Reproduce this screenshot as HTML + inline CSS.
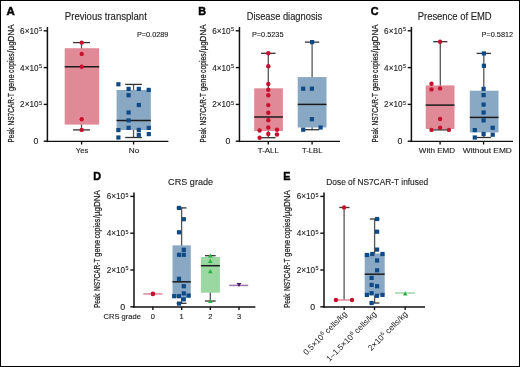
<!DOCTYPE html>
<html><head><meta charset="utf-8"><style>
html,body{margin:0;padding:0;background:#fff;overflow:hidden;}
svg{display:block;font-family:"Liberation Sans", sans-serif;will-change:transform;}
</style></head><body>
<svg width="520" height="367" viewBox="0 0 520 367">
<rect x="0" y="0" width="520" height="367" fill="#fff"/>
<rect x="0.5" y="0.5" width="519" height="366" fill="none" stroke="#000" stroke-width="1"/>
<line x1="47.40" y1="26.90" x2="47.40" y2="142.10" stroke="#111" stroke-width="1.5"/>
<line x1="46.60" y1="141.40" x2="168.40" y2="141.40" stroke="#111" stroke-width="1.4"/>
<line x1="43.70" y1="141.20" x2="47.40" y2="141.20" stroke="#111" stroke-width="1.4"/>
<text x="36.00" y="144.30" font-size="8.8" text-anchor="middle" font-weight="normal" fill="#222" stroke="#222" stroke-width="0.12">0</text>
<line x1="43.70" y1="104.40" x2="47.40" y2="104.40" stroke="#111" stroke-width="1.4"/>
<text x="20.10" y="107.40" font-size="8.6" fill="#222" stroke="#222" stroke-width="0.12" textLength="18.4" lengthAdjust="spacingAndGlyphs">2×10</text>
<text x="39.00" y="104.70" font-size="5.4" text-anchor="start" font-weight="normal" fill="#222" stroke="#222" stroke-width="0.12">5</text>
<line x1="43.70" y1="67.60" x2="47.40" y2="67.60" stroke="#111" stroke-width="1.4"/>
<text x="20.10" y="70.60" font-size="8.6" fill="#222" stroke="#222" stroke-width="0.12" textLength="18.4" lengthAdjust="spacingAndGlyphs">4×10</text>
<text x="39.00" y="67.90" font-size="5.4" text-anchor="start" font-weight="normal" fill="#222" stroke="#222" stroke-width="0.12">5</text>
<line x1="43.70" y1="30.80" x2="47.40" y2="30.80" stroke="#111" stroke-width="1.4"/>
<text x="20.10" y="33.80" font-size="8.6" fill="#222" stroke="#222" stroke-width="0.12" textLength="18.4" lengthAdjust="spacingAndGlyphs">6×10</text>
<text x="39.00" y="31.10" font-size="5.4" text-anchor="start" font-weight="normal" fill="#222" stroke="#222" stroke-width="0.12">5</text>
<line x1="81.60" y1="141.20" x2="81.60" y2="144.50" stroke="#151515" stroke-width="1.4"/>
<line x1="133.60" y1="141.20" x2="133.60" y2="144.50" stroke="#151515" stroke-width="1.4"/>
<g transform="translate(13.50,143.20) rotate(-90)" font-size="9.8" fill="#222" stroke="#222" stroke-width="0.24"><text x="0.70" y="0" textLength="14.70" lengthAdjust="spacingAndGlyphs">Peak</text><text x="17.80" y="0" textLength="32.40" lengthAdjust="spacingAndGlyphs">NS7CAR-T</text><text x="52.10" y="0" textLength="16.80" lengthAdjust="spacingAndGlyphs">gene</text><text x="70.20" y="0" textLength="19.80" lengthAdjust="spacingAndGlyphs">copies</text><text x="90.50" y="0" textLength="28.20" lengthAdjust="spacingAndGlyphs">/µgDNA</text></g>
<text x="6.60" y="15.30" font-size="10.8" text-anchor="start" font-weight="bold" fill="#000" stroke="#000" stroke-width="0.45" textLength="8.3" lengthAdjust="spacingAndGlyphs">A</text>
<text x="64.80" y="20.00" font-size="10" text-anchor="start" font-weight="normal" fill="#222" stroke="#222" stroke-width="0.12" textLength="82" lengthAdjust="spacingAndGlyphs">Previous transplant</text>
<text x="136.90" y="37.40" font-size="7.8" text-anchor="start" font-weight="normal" fill="#222" stroke="#222" stroke-width="0.12" textLength="31.5" lengthAdjust="spacingAndGlyphs">P=0.0289</text>
<line x1="81.50" y1="42.60" x2="81.50" y2="129.90" stroke="#555" stroke-width="1.3"/>
<line x1="73.05" y1="42.60" x2="89.95" y2="42.60" stroke="#333" stroke-width="1.3"/>
<line x1="73.05" y1="129.90" x2="89.95" y2="129.90" stroke="#333" stroke-width="1.3"/>
<rect x="64.7" y="48.2" width="34.50" height="76.40" fill="#e08a98"/>
<line x1="64.70" y1="66.70" x2="99.20" y2="66.70" stroke="#1a1a1a" stroke-width="1.5"/>
<circle cx="81.7" cy="42.6" r="2.2" fill="#c8102e"/>
<circle cx="81.7" cy="53.9" r="2.2" fill="#c8102e"/>
<circle cx="81.7" cy="66.7" r="2.2" fill="#c8102e"/>
<circle cx="81.7" cy="119.3" r="2.2" fill="#c8102e"/>
<circle cx="81.7" cy="129.9" r="2.2" fill="#c8102e"/>
<line x1="133.55" y1="84.40" x2="133.55" y2="137.50" stroke="#555" stroke-width="1.3"/>
<line x1="125.20" y1="84.40" x2="141.90" y2="84.40" stroke="#333" stroke-width="1.3"/>
<line x1="125.20" y1="137.50" x2="141.90" y2="137.50" stroke="#333" stroke-width="1.3"/>
<rect x="116.6" y="90.0" width="34.20" height="40.00" fill="#89a8c4"/>
<line x1="116.60" y1="120.40" x2="150.80" y2="120.40" stroke="#1a1a1a" stroke-width="1.5"/>
<rect x="116.30" y="82.20" width="4.2" height="4.2" fill="#0f4a86"/>
<rect x="126.50" y="86.80" width="4.2" height="4.2" fill="#0f4a86"/>
<rect x="136.70" y="86.80" width="4.2" height="4.2" fill="#0f4a86"/>
<rect x="146.60" y="87.80" width="4.2" height="4.2" fill="#0f4a86"/>
<rect x="126.50" y="93.10" width="4.2" height="4.2" fill="#0f4a86"/>
<rect x="136.70" y="102.90" width="4.2" height="4.2" fill="#0f4a86"/>
<rect x="126.50" y="110.40" width="4.2" height="4.2" fill="#0f4a86"/>
<rect x="126.50" y="118.30" width="4.2" height="4.2" fill="#0f4a86"/>
<rect x="116.30" y="128.00" width="4.2" height="4.2" fill="#0f4a86"/>
<rect x="126.50" y="125.70" width="4.2" height="4.2" fill="#0f4a86"/>
<rect x="136.70" y="127.80" width="4.2" height="4.2" fill="#0f4a86"/>
<rect x="146.70" y="125.80" width="4.2" height="4.2" fill="#0f4a86"/>
<rect x="136.70" y="132.70" width="4.2" height="4.2" fill="#0f4a86"/>
<rect x="146.70" y="132.00" width="4.2" height="4.2" fill="#0f4a86"/>
<rect x="116.30" y="135.40" width="4.2" height="4.2" fill="#0f4a86"/>
<text x="82.00" y="153.10" font-size="7.5" text-anchor="middle" font-weight="normal" fill="#222" stroke="#222" stroke-width="0.12" textLength="12.5" lengthAdjust="spacingAndGlyphs">Yes</text>
<text x="134.00" y="153.10" font-size="7.5" text-anchor="middle" font-weight="normal" fill="#222" stroke="#222" stroke-width="0.12" textLength="10.5" lengthAdjust="spacingAndGlyphs">No</text>
<line x1="239.45" y1="26.90" x2="239.45" y2="142.10" stroke="#111" stroke-width="1.5"/>
<line x1="238.65" y1="141.40" x2="340.00" y2="141.40" stroke="#111" stroke-width="1.4"/>
<line x1="235.75" y1="141.20" x2="239.45" y2="141.20" stroke="#111" stroke-width="1.4"/>
<text x="228.05" y="144.30" font-size="8.8" text-anchor="middle" font-weight="normal" fill="#222" stroke="#222" stroke-width="0.12">0</text>
<line x1="235.75" y1="104.40" x2="239.45" y2="104.40" stroke="#111" stroke-width="1.4"/>
<text x="212.15" y="107.40" font-size="8.6" fill="#222" stroke="#222" stroke-width="0.12" textLength="18.4" lengthAdjust="spacingAndGlyphs">2×10</text>
<text x="231.05" y="104.70" font-size="5.4" text-anchor="start" font-weight="normal" fill="#222" stroke="#222" stroke-width="0.12">5</text>
<line x1="235.75" y1="67.60" x2="239.45" y2="67.60" stroke="#111" stroke-width="1.4"/>
<text x="212.15" y="70.60" font-size="8.6" fill="#222" stroke="#222" stroke-width="0.12" textLength="18.4" lengthAdjust="spacingAndGlyphs">4×10</text>
<text x="231.05" y="67.90" font-size="5.4" text-anchor="start" font-weight="normal" fill="#222" stroke="#222" stroke-width="0.12">5</text>
<line x1="235.75" y1="30.80" x2="239.45" y2="30.80" stroke="#111" stroke-width="1.4"/>
<text x="212.15" y="33.80" font-size="8.6" fill="#222" stroke="#222" stroke-width="0.12" textLength="18.4" lengthAdjust="spacingAndGlyphs">6×10</text>
<text x="231.05" y="31.10" font-size="5.4" text-anchor="start" font-weight="normal" fill="#222" stroke="#222" stroke-width="0.12">5</text>
<line x1="268.30" y1="141.20" x2="268.30" y2="144.50" stroke="#151515" stroke-width="1.4"/>
<line x1="312.10" y1="141.20" x2="312.10" y2="144.50" stroke="#151515" stroke-width="1.4"/>
<g transform="translate(205.55,143.20) rotate(-90)" font-size="9.8" fill="#222" stroke="#222" stroke-width="0.24"><text x="0.70" y="0" textLength="14.70" lengthAdjust="spacingAndGlyphs">Peak</text><text x="17.80" y="0" textLength="32.40" lengthAdjust="spacingAndGlyphs">NS7CAR-T</text><text x="52.10" y="0" textLength="16.80" lengthAdjust="spacingAndGlyphs">gene</text><text x="70.20" y="0" textLength="19.80" lengthAdjust="spacingAndGlyphs">copies</text><text x="90.50" y="0" textLength="28.20" lengthAdjust="spacingAndGlyphs">/µgDNA</text></g>
<text x="198.30" y="15.30" font-size="10.8" text-anchor="start" font-weight="bold" fill="#000" stroke="#000" stroke-width="0.45">B</text>
<text x="246.70" y="20.00" font-size="10" text-anchor="start" font-weight="normal" fill="#222" stroke="#222" stroke-width="0.12" textLength="75.6" lengthAdjust="spacingAndGlyphs">Disease diagnosis</text>
<text x="251.90" y="37.40" font-size="7.8" text-anchor="start" font-weight="normal" fill="#222" stroke="#222" stroke-width="0.12" textLength="31.6" lengthAdjust="spacingAndGlyphs">P=0.5235</text>
<line x1="268.30" y1="53.30" x2="268.30" y2="137.70" stroke="#555" stroke-width="1.3"/>
<line x1="261.05" y1="53.30" x2="275.55" y2="53.30" stroke="#333" stroke-width="1.3"/>
<line x1="261.05" y1="137.70" x2="275.55" y2="137.70" stroke="#333" stroke-width="1.3"/>
<rect x="254.2" y="88.3" width="28.70" height="42.70" fill="#e08a98"/>
<line x1="254.20" y1="117.00" x2="282.90" y2="117.00" stroke="#1a1a1a" stroke-width="1.5"/>
<circle cx="268.3" cy="53.3" r="2.2" fill="#c8102e"/>
<circle cx="268.3" cy="66.3" r="2.2" fill="#c8102e"/>
<circle cx="268.3" cy="84.0" r="2.2" fill="#c8102e"/>
<circle cx="268.3" cy="89.8" r="2.2" fill="#c8102e"/>
<circle cx="268.3" cy="95.3" r="2.2" fill="#c8102e"/>
<circle cx="268.3" cy="105.1" r="2.2" fill="#c8102e"/>
<circle cx="268.3" cy="112.7" r="2.2" fill="#c8102e"/>
<circle cx="268.3" cy="120.3" r="2.2" fill="#c8102e"/>
<circle cx="268.3" cy="127.5" r="2.2" fill="#c8102e"/>
<circle cx="259.6" cy="130.5" r="2.2" fill="#c8102e"/>
<circle cx="277.0" cy="129.7" r="2.2" fill="#c8102e"/>
<circle cx="268.3" cy="134.0" r="2.2" fill="#c8102e"/>
<circle cx="277.0" cy="134.5" r="2.2" fill="#c8102e"/>
<circle cx="259.6" cy="137.7" r="2.2" fill="#c8102e"/>
<line x1="312.10" y1="42.10" x2="312.10" y2="129.70" stroke="#555" stroke-width="1.3"/>
<line x1="305.00" y1="42.10" x2="319.20" y2="42.10" stroke="#333" stroke-width="1.3"/>
<line x1="305.00" y1="129.70" x2="319.20" y2="129.70" stroke="#333" stroke-width="1.3"/>
<rect x="297.7" y="77.1" width="28.80" height="50.40" fill="#89a8c4"/>
<line x1="297.70" y1="104.40" x2="326.50" y2="104.40" stroke="#1a1a1a" stroke-width="1.5"/>
<rect x="310.00" y="40.00" width="4.2" height="4.2" fill="#0f4a86"/>
<rect x="301.10" y="86.60" width="4.2" height="4.2" fill="#0f4a86"/>
<rect x="309.80" y="86.60" width="4.2" height="4.2" fill="#0f4a86"/>
<rect x="309.80" y="117.10" width="4.2" height="4.2" fill="#0f4a86"/>
<rect x="301.10" y="127.60" width="4.2" height="4.2" fill="#0f4a86"/>
<rect x="318.50" y="125.40" width="4.2" height="4.2" fill="#0f4a86"/>
<text x="268.30" y="153.10" font-size="7.5" text-anchor="middle" font-weight="normal" fill="#222" stroke="#222" stroke-width="0.12" textLength="20.9" lengthAdjust="spacingAndGlyphs">T-ALL</text>
<text x="312.20" y="153.10" font-size="7.5" text-anchor="middle" font-weight="normal" fill="#222" stroke="#222" stroke-width="0.12" textLength="20.4" lengthAdjust="spacingAndGlyphs">T-LBL</text>
<line x1="411.40" y1="26.90" x2="411.40" y2="142.10" stroke="#111" stroke-width="1.5"/>
<line x1="410.60" y1="141.40" x2="513.00" y2="141.40" stroke="#111" stroke-width="1.4"/>
<line x1="407.70" y1="141.20" x2="411.40" y2="141.20" stroke="#111" stroke-width="1.4"/>
<text x="400.00" y="144.30" font-size="8.8" text-anchor="middle" font-weight="normal" fill="#222" stroke="#222" stroke-width="0.12">0</text>
<line x1="407.70" y1="104.40" x2="411.40" y2="104.40" stroke="#111" stroke-width="1.4"/>
<text x="384.10" y="107.40" font-size="8.6" fill="#222" stroke="#222" stroke-width="0.12" textLength="18.4" lengthAdjust="spacingAndGlyphs">2×10</text>
<text x="403.00" y="104.70" font-size="5.4" text-anchor="start" font-weight="normal" fill="#222" stroke="#222" stroke-width="0.12">5</text>
<line x1="407.70" y1="67.60" x2="411.40" y2="67.60" stroke="#111" stroke-width="1.4"/>
<text x="384.10" y="70.60" font-size="8.6" fill="#222" stroke="#222" stroke-width="0.12" textLength="18.4" lengthAdjust="spacingAndGlyphs">4×10</text>
<text x="403.00" y="67.90" font-size="5.4" text-anchor="start" font-weight="normal" fill="#222" stroke="#222" stroke-width="0.12">5</text>
<line x1="407.70" y1="30.80" x2="411.40" y2="30.80" stroke="#111" stroke-width="1.4"/>
<text x="384.10" y="33.80" font-size="8.6" fill="#222" stroke="#222" stroke-width="0.12" textLength="18.4" lengthAdjust="spacingAndGlyphs">6×10</text>
<text x="403.00" y="31.10" font-size="5.4" text-anchor="start" font-weight="normal" fill="#222" stroke="#222" stroke-width="0.12">5</text>
<line x1="440.10" y1="141.20" x2="440.10" y2="144.50" stroke="#151515" stroke-width="1.4"/>
<line x1="483.60" y1="141.20" x2="483.60" y2="144.50" stroke="#151515" stroke-width="1.4"/>
<g transform="translate(377.50,143.20) rotate(-90)" font-size="9.8" fill="#222" stroke="#222" stroke-width="0.24"><text x="0.70" y="0" textLength="14.70" lengthAdjust="spacingAndGlyphs">Peak</text><text x="17.80" y="0" textLength="32.40" lengthAdjust="spacingAndGlyphs">NS7CAR-T</text><text x="52.10" y="0" textLength="16.80" lengthAdjust="spacingAndGlyphs">gene</text><text x="70.20" y="0" textLength="19.80" lengthAdjust="spacingAndGlyphs">copies</text><text x="90.50" y="0" textLength="28.20" lengthAdjust="spacingAndGlyphs">/µgDNA</text></g>
<text x="370.80" y="15.30" font-size="10.8" text-anchor="start" font-weight="bold" fill="#000" stroke="#000" stroke-width="0.45">C</text>
<text x="417.70" y="20.00" font-size="10" text-anchor="start" font-weight="normal" fill="#222" stroke="#222" stroke-width="0.12" textLength="74" lengthAdjust="spacingAndGlyphs">Presence of EMD</text>
<text x="481.60" y="37.40" font-size="7.8" text-anchor="start" font-weight="normal" fill="#222" stroke="#222" stroke-width="0.12" textLength="31.5" lengthAdjust="spacingAndGlyphs">P=0.5812</text>
<line x1="440.30" y1="41.70" x2="440.30" y2="129.90" stroke="#555" stroke-width="1.3"/>
<line x1="433.20" y1="41.70" x2="447.40" y2="41.70" stroke="#333" stroke-width="1.3"/>
<line x1="433.20" y1="129.90" x2="447.40" y2="129.90" stroke="#333" stroke-width="1.3"/>
<rect x="425.7" y="85.4" width="28.80" height="43.60" fill="#e08a98"/>
<line x1="425.70" y1="105.10" x2="454.50" y2="105.10" stroke="#1a1a1a" stroke-width="1.5"/>
<circle cx="440.1" cy="41.7" r="2.2" fill="#c8102e"/>
<circle cx="431.5" cy="83.8" r="2.2" fill="#c8102e"/>
<circle cx="431.5" cy="89.4" r="2.2" fill="#c8102e"/>
<circle cx="440.1" cy="88.4" r="2.2" fill="#c8102e"/>
<circle cx="440.1" cy="119.0" r="2.2" fill="#c8102e"/>
<circle cx="440.1" cy="127.8" r="2.2" fill="#c8102e"/>
<circle cx="431.5" cy="129.9" r="2.2" fill="#c8102e"/>
<circle cx="448.9" cy="129.9" r="2.2" fill="#c8102e"/>
<line x1="483.80" y1="53.40" x2="483.80" y2="137.50" stroke="#555" stroke-width="1.3"/>
<line x1="476.65" y1="53.40" x2="490.95" y2="53.40" stroke="#333" stroke-width="1.3"/>
<line x1="476.65" y1="137.50" x2="490.95" y2="137.50" stroke="#333" stroke-width="1.3"/>
<rect x="469.8" y="90.7" width="28.70" height="41.70" fill="#89a8c4"/>
<line x1="469.80" y1="117.40" x2="498.50" y2="117.40" stroke="#1a1a1a" stroke-width="1.5"/>
<rect x="481.80" y="51.30" width="4.2" height="4.2" fill="#0f4a86"/>
<rect x="481.80" y="63.70" width="4.2" height="4.2" fill="#0f4a86"/>
<rect x="481.50" y="86.80" width="4.2" height="4.2" fill="#0f4a86"/>
<rect x="481.50" y="93.00" width="4.2" height="4.2" fill="#0f4a86"/>
<rect x="481.50" y="102.50" width="4.2" height="4.2" fill="#0f4a86"/>
<rect x="481.50" y="110.40" width="4.2" height="4.2" fill="#0f4a86"/>
<rect x="481.50" y="118.30" width="4.2" height="4.2" fill="#0f4a86"/>
<rect x="472.70" y="128.00" width="4.2" height="4.2" fill="#0f4a86"/>
<rect x="490.60" y="125.70" width="4.2" height="4.2" fill="#0f4a86"/>
<rect x="481.50" y="131.90" width="4.2" height="4.2" fill="#0f4a86"/>
<rect x="490.60" y="132.60" width="4.2" height="4.2" fill="#0f4a86"/>
<rect x="472.70" y="135.40" width="4.2" height="4.2" fill="#0f4a86"/>
<text x="437.00" y="153.10" font-size="7.5" text-anchor="middle" font-weight="normal" fill="#222" stroke="#222" stroke-width="0.12" textLength="36.4" lengthAdjust="spacingAndGlyphs">With EMD</text>
<text x="487.35" y="153.10" font-size="7.5" text-anchor="middle" font-weight="normal" fill="#222" stroke="#222" stroke-width="0.12" textLength="49.1" lengthAdjust="spacingAndGlyphs">Without EMD</text>
<line x1="134.00" y1="192.50" x2="134.00" y2="307.70" stroke="#111" stroke-width="1.5"/>
<line x1="133.20" y1="307.00" x2="255.40" y2="307.00" stroke="#111" stroke-width="1.4"/>
<line x1="130.30" y1="306.80" x2="134.00" y2="306.80" stroke="#111" stroke-width="1.4"/>
<text x="122.60" y="309.90" font-size="8.8" text-anchor="middle" font-weight="normal" fill="#222" stroke="#222" stroke-width="0.12">0</text>
<line x1="130.30" y1="270.00" x2="134.00" y2="270.00" stroke="#111" stroke-width="1.4"/>
<text x="106.70" y="273.00" font-size="8.6" fill="#222" stroke="#222" stroke-width="0.12" textLength="18.4" lengthAdjust="spacingAndGlyphs">2×10</text>
<text x="125.60" y="270.30" font-size="5.4" text-anchor="start" font-weight="normal" fill="#222" stroke="#222" stroke-width="0.12">5</text>
<line x1="130.30" y1="233.20" x2="134.00" y2="233.20" stroke="#111" stroke-width="1.4"/>
<text x="106.70" y="236.20" font-size="8.6" fill="#222" stroke="#222" stroke-width="0.12" textLength="18.4" lengthAdjust="spacingAndGlyphs">4×10</text>
<text x="125.60" y="233.50" font-size="5.4" text-anchor="start" font-weight="normal" fill="#222" stroke="#222" stroke-width="0.12">5</text>
<line x1="130.30" y1="196.40" x2="134.00" y2="196.40" stroke="#111" stroke-width="1.4"/>
<text x="106.70" y="199.40" font-size="8.6" fill="#222" stroke="#222" stroke-width="0.12" textLength="18.4" lengthAdjust="spacingAndGlyphs">6×10</text>
<text x="125.60" y="196.70" font-size="5.4" text-anchor="start" font-weight="normal" fill="#222" stroke="#222" stroke-width="0.12">5</text>
<line x1="152.90" y1="306.80" x2="152.90" y2="310.10" stroke="#151515" stroke-width="1.4"/>
<line x1="181.70" y1="306.80" x2="181.70" y2="310.10" stroke="#151515" stroke-width="1.4"/>
<line x1="210.30" y1="306.80" x2="210.30" y2="310.10" stroke="#151515" stroke-width="1.4"/>
<line x1="239.00" y1="306.80" x2="239.00" y2="310.10" stroke="#151515" stroke-width="1.4"/>
<g transform="translate(100.10,308.80) rotate(-90)" font-size="9.8" fill="#222" stroke="#222" stroke-width="0.24"><text x="0.70" y="0" textLength="14.70" lengthAdjust="spacingAndGlyphs">Peak</text><text x="17.80" y="0" textLength="32.40" lengthAdjust="spacingAndGlyphs">NS7CAR-T</text><text x="52.10" y="0" textLength="16.80" lengthAdjust="spacingAndGlyphs">gene</text><text x="70.20" y="0" textLength="19.80" lengthAdjust="spacingAndGlyphs">copies</text><text x="90.50" y="0" textLength="28.20" lengthAdjust="spacingAndGlyphs">/µgDNA</text></g>
<text x="93.30" y="180.40" font-size="10.8" text-anchor="start" font-weight="bold" fill="#000" stroke="#000" stroke-width="0.45">D</text>
<text x="168.10" y="184.80" font-size="9.2" text-anchor="start" font-weight="normal" fill="#222" stroke="#222" stroke-width="0.12" textLength="45.1" lengthAdjust="spacingAndGlyphs">CRS grade</text>
<line x1="143.30" y1="293.90" x2="162.50" y2="293.90" stroke="#e0889a" stroke-width="1.5"/>
<circle cx="152.9" cy="293.9" r="2.3" fill="#c8102e"/>
<line x1="181.60" y1="207.90" x2="181.60" y2="303.30" stroke="#555" stroke-width="1.3"/>
<line x1="176.70" y1="207.90" x2="186.50" y2="207.90" stroke="#333" stroke-width="1.3"/>
<line x1="176.70" y1="303.30" x2="186.50" y2="303.30" stroke="#333" stroke-width="1.3"/>
<rect x="172.5" y="245.4" width="18.30" height="52.30" fill="#89a8c4"/>
<line x1="172.50" y1="281.80" x2="190.80" y2="281.80" stroke="#1a1a1a" stroke-width="1.5"/>
<rect x="176.90" y="205.80" width="4.2" height="4.2" fill="#0f4a86"/>
<rect x="181.70" y="217.10" width="4.2" height="4.2" fill="#0f4a86"/>
<rect x="176.90" y="230.20" width="4.2" height="4.2" fill="#0f4a86"/>
<rect x="181.70" y="247.70" width="4.2" height="4.2" fill="#0f4a86"/>
<rect x="176.90" y="252.70" width="4.2" height="4.2" fill="#0f4a86"/>
<rect x="181.70" y="252.70" width="4.2" height="4.2" fill="#0f4a86"/>
<rect x="176.90" y="276.70" width="4.2" height="4.2" fill="#0f4a86"/>
<rect x="181.70" y="284.10" width="4.2" height="4.2" fill="#0f4a86"/>
<rect x="172.10" y="294.10" width="4.2" height="4.2" fill="#0f4a86"/>
<rect x="176.90" y="294.10" width="4.2" height="4.2" fill="#0f4a86"/>
<rect x="181.70" y="291.30" width="4.2" height="4.2" fill="#0f4a86"/>
<rect x="186.50" y="293.50" width="4.2" height="4.2" fill="#0f4a86"/>
<rect x="181.70" y="297.20" width="4.2" height="4.2" fill="#0f4a86"/>
<rect x="176.90" y="301.50" width="4.2" height="4.2" fill="#0f4a86"/>
<line x1="210.30" y1="255.70" x2="210.30" y2="301.00" stroke="#555" stroke-width="1.3"/>
<line x1="204.95" y1="255.70" x2="215.65" y2="255.70" stroke="#333" stroke-width="1.3"/>
<line x1="204.95" y1="301.00" x2="215.65" y2="301.00" stroke="#333" stroke-width="1.3"/>
<rect x="200.9" y="257.0" width="19.00" height="35.70" fill="#9bd7a0"/>
<line x1="200.90" y1="265.70" x2="219.90" y2="265.70" stroke="#1a1a1a" stroke-width="1.5"/>
<polygon points="208.0,257.616 212.60000000000002,257.616 210.3,253.384" fill="#2cb043"/>
<polygon points="208.0,262.916 212.60000000000002,262.916 210.3,258.684" fill="#2cb043"/>
<polygon points="208.0,273.316 212.60000000000002,273.316 210.3,269.084" fill="#2cb043"/>
<polygon points="208.0,302.916 212.60000000000002,302.916 210.3,298.684" fill="#2cb043"/>
<line x1="229.20" y1="285.40" x2="248.20" y2="285.40" stroke="#9a74b2" stroke-width="1.5"/>
<polygon points="236.7,282.884 241.3,282.884 239.0,287.116" fill="#501470"/>
<text x="103.50" y="319.40" font-size="7.5" text-anchor="start" font-weight="normal" fill="#222" stroke="#222" stroke-width="0.12" textLength="37.5" lengthAdjust="spacingAndGlyphs">CRS grade</text>
<text x="152.90" y="319.40" font-size="7.5" text-anchor="middle" font-weight="normal" fill="#222" stroke="#222" stroke-width="0.12">0</text>
<text x="181.70" y="319.40" font-size="7.5" text-anchor="middle" font-weight="normal" fill="#222" stroke="#222" stroke-width="0.12">1</text>
<text x="210.30" y="319.40" font-size="7.5" text-anchor="middle" font-weight="normal" fill="#222" stroke="#222" stroke-width="0.12">2</text>
<text x="239.00" y="319.40" font-size="7.5" text-anchor="middle" font-weight="normal" fill="#222" stroke="#222" stroke-width="0.12">3</text>
<line x1="324.00" y1="192.50" x2="324.00" y2="307.70" stroke="#111" stroke-width="1.5"/>
<line x1="323.20" y1="307.00" x2="425.00" y2="307.00" stroke="#111" stroke-width="1.4"/>
<line x1="320.30" y1="306.80" x2="324.00" y2="306.80" stroke="#111" stroke-width="1.4"/>
<text x="312.60" y="309.90" font-size="8.8" text-anchor="middle" font-weight="normal" fill="#222" stroke="#222" stroke-width="0.12">0</text>
<line x1="320.30" y1="270.00" x2="324.00" y2="270.00" stroke="#111" stroke-width="1.4"/>
<text x="296.70" y="273.00" font-size="8.6" fill="#222" stroke="#222" stroke-width="0.12" textLength="18.4" lengthAdjust="spacingAndGlyphs">2×10</text>
<text x="315.60" y="270.30" font-size="5.4" text-anchor="start" font-weight="normal" fill="#222" stroke="#222" stroke-width="0.12">5</text>
<line x1="320.30" y1="233.20" x2="324.00" y2="233.20" stroke="#111" stroke-width="1.4"/>
<text x="296.70" y="236.20" font-size="8.6" fill="#222" stroke="#222" stroke-width="0.12" textLength="18.4" lengthAdjust="spacingAndGlyphs">4×10</text>
<text x="315.60" y="233.50" font-size="5.4" text-anchor="start" font-weight="normal" fill="#222" stroke="#222" stroke-width="0.12">5</text>
<line x1="320.30" y1="196.40" x2="324.00" y2="196.40" stroke="#111" stroke-width="1.4"/>
<text x="296.70" y="199.40" font-size="8.6" fill="#222" stroke="#222" stroke-width="0.12" textLength="18.4" lengthAdjust="spacingAndGlyphs">6×10</text>
<text x="315.60" y="196.70" font-size="5.4" text-anchor="start" font-weight="normal" fill="#222" stroke="#222" stroke-width="0.12">5</text>
<line x1="344.20" y1="306.80" x2="344.20" y2="310.10" stroke="#151515" stroke-width="1.4"/>
<line x1="374.50" y1="306.80" x2="374.50" y2="310.10" stroke="#151515" stroke-width="1.4"/>
<line x1="405.20" y1="306.80" x2="405.20" y2="310.10" stroke="#151515" stroke-width="1.4"/>
<g transform="translate(290.10,308.80) rotate(-90)" font-size="9.8" fill="#222" stroke="#222" stroke-width="0.24"><text x="0.70" y="0" textLength="14.70" lengthAdjust="spacingAndGlyphs">Peak</text><text x="17.80" y="0" textLength="32.40" lengthAdjust="spacingAndGlyphs">NS7CAR-T</text><text x="52.10" y="0" textLength="16.80" lengthAdjust="spacingAndGlyphs">gene</text><text x="70.20" y="0" textLength="19.80" lengthAdjust="spacingAndGlyphs">copies</text><text x="90.50" y="0" textLength="28.20" lengthAdjust="spacingAndGlyphs">/µgDNA</text></g>
<text x="283.20" y="180.40" font-size="10.8" text-anchor="start" font-weight="bold" fill="#000" stroke="#000" stroke-width="0.45">E</text>
<text x="326.30" y="185.30" font-size="8.4" text-anchor="start" font-weight="normal" fill="#222" stroke="#222" stroke-width="0.12" textLength="101.9" lengthAdjust="spacingAndGlyphs">Dose of NS7CAR-T infused</text>
<line x1="344.10" y1="207.50" x2="344.10" y2="300.00" stroke="#555" stroke-width="1.3"/>
<line x1="339.30" y1="207.50" x2="349.50" y2="207.50" stroke="#333" stroke-width="1.3"/>
<line x1="335.90" y1="300.00" x2="352.00" y2="300.00" stroke="#e0889a" stroke-width="1.5"/>
<circle cx="344.1" cy="207.5" r="2.2" fill="#c8102e"/>
<circle cx="335.9" cy="300.0" r="2.2" fill="#c8102e"/>
<circle cx="352.0" cy="300.0" r="2.2" fill="#c8102e"/>
<line x1="374.60" y1="219.00" x2="374.60" y2="303.00" stroke="#555" stroke-width="1.3"/>
<line x1="369.80" y1="219.00" x2="379.40" y2="219.00" stroke="#333" stroke-width="1.3"/>
<line x1="369.80" y1="303.00" x2="379.40" y2="303.00" stroke="#333" stroke-width="1.3"/>
<rect x="364.7" y="253.5" width="20.00" height="41.90" fill="#89a8c4"/>
<line x1="364.70" y1="274.20" x2="384.70" y2="274.20" stroke="#1a1a1a" stroke-width="1.5"/>
<rect x="375.00" y="216.90" width="4.2" height="4.2" fill="#0f4a86"/>
<rect x="375.00" y="229.60" width="4.2" height="4.2" fill="#0f4a86"/>
<rect x="375.00" y="247.50" width="4.2" height="4.2" fill="#0f4a86"/>
<rect x="364.80" y="252.90" width="4.2" height="4.2" fill="#0f4a86"/>
<rect x="370.20" y="251.90" width="4.2" height="4.2" fill="#0f4a86"/>
<rect x="380.40" y="251.90" width="4.2" height="4.2" fill="#0f4a86"/>
<rect x="375.00" y="258.40" width="4.2" height="4.2" fill="#0f4a86"/>
<rect x="375.00" y="268.20" width="4.2" height="4.2" fill="#0f4a86"/>
<rect x="369.50" y="275.80" width="4.2" height="4.2" fill="#0f4a86"/>
<rect x="369.50" y="282.80" width="4.2" height="4.2" fill="#0f4a86"/>
<rect x="375.00" y="284.10" width="4.2" height="4.2" fill="#0f4a86"/>
<rect x="369.50" y="291.10" width="4.2" height="4.2" fill="#0f4a86"/>
<rect x="364.80" y="292.80" width="4.2" height="4.2" fill="#0f4a86"/>
<rect x="375.00" y="293.70" width="4.2" height="4.2" fill="#0f4a86"/>
<rect x="380.40" y="292.80" width="4.2" height="4.2" fill="#0f4a86"/>
<rect x="369.50" y="300.90" width="4.2" height="4.2" fill="#0f4a86"/>
<line x1="395.00" y1="293.00" x2="415.10" y2="293.00" stroke="#9edaa8" stroke-width="1.5"/>
<polygon points="402.9,295.416 407.5,295.416 405.2,291.184" fill="#2cb043"/>
<text transform="translate(347.4,314.6) rotate(-45)" font-size="8.2" text-anchor="end" fill="#222" textLength="58" lengthAdjust="spacingAndGlyphs">0.5×10<tspan baseline-shift="super" font-size="5.6">6</tspan> cells/kg</text>
<text transform="translate(376.9,314.6) rotate(-45)" font-size="8.2" text-anchor="end" fill="#222" textLength="67" lengthAdjust="spacingAndGlyphs">1–1.5×10<tspan baseline-shift="super" font-size="5.6">6</tspan> cells/kg</text>
<text transform="translate(408.1,314.6) rotate(-45)" font-size="8.2" text-anchor="end" fill="#222" textLength="52" lengthAdjust="spacingAndGlyphs">2×10<tspan baseline-shift="super" font-size="5.6">6</tspan> cells/kg</text>
</svg></body></html>
